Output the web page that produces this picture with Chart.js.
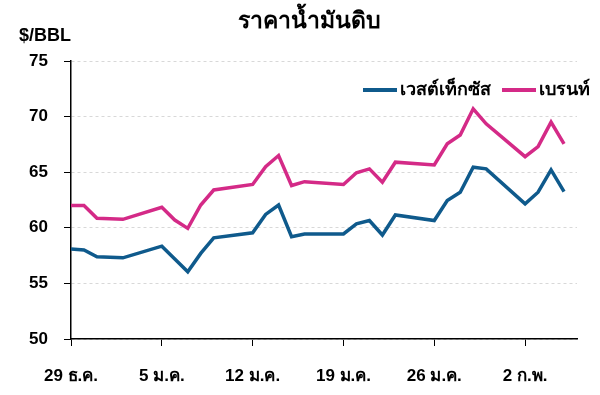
<!DOCTYPE html>
<html>
<head>
<meta charset="utf-8">
<script src="https://cdn.jsdelivr.net/npm/chart.js@4.4.1/dist/chart.umd.min.js"></script>
<style>
  html, body { margin: 0; padding: 0; background: #fff; }
  #wrap { position: relative; width: 600px; height: 395px; }
</style>
</head>
<body>
<div id="wrap"><canvas id="c" width="600" height="395"></canvas></div>
<script>
// days since 29 Dec (trading days only)
const days = [0, 1, 2, 4, 7, 8, 9, 10, 11, 14, 15, 16, 17, 18, 21, 22, 23, 24, 25, 28, 29, 30, 31, 32, 35, 36, 37, 38]
const wti = [58.1, 58.0, 57.4, 57.3, 58.35, 57.2, 56.05, 57.7, 59.1, 59.55, 61.2, 62.05, 59.2, 59.45,
  59.45, 60.35, 60.65, 59.35, 61.15, 60.65, 62.45, 63.2, 65.45, 65.3, 62.15, 63.2, 65.2, 63.25]
const brent = [62.0, 62.0, 60.85, 60.76, 61.84, 60.7, 59.95, 62.05, 63.4, 63.9, 65.5, 66.5, 63.8, 64.15,
  63.9, 64.95, 65.3, 64.1, 65.9, 65.65, 67.55, 68.35, 70.7, 69.35, 66.4, 67.3, 69.5, 67.55]
const tickDays = [0, 7, 14, 21, 28, 35]
const tickLabels = ['29 ธ.ค.', '5 ม.ค.', '12 ม.ค.', '19 ม.ค.', '26 ม.ค.', '2 ก.พ.']
const seriesNames = ['เวสต์เท็กซัส', 'เบรนท์']
const chartTitle = 'ราคาน้ำมันดิบ'
const unitLabel = '$/BBL'

const BLUE = '#0f5a8c'
const PINK = '#d42a87'
const FONT = '"Liberation Sans", Arial, "Noto Sans", sans-serif'

const extras = {
  id: 'extras',
  afterDraw(chart) {
    const ctx = chart.ctx
    ctx.save()
    ctx.fillStyle = '#000'
    ctx.textBaseline = 'middle'
    ctx.font = 'bold 23px ' + FONT
    ctx.textAlign = 'center'
    ctx.fillText(chartTitle, 309, 22)
    ctx.font = 'bold 18px ' + FONT
    ctx.textAlign = 'left'
    ctx.fillText(unitLabel, 19, 36)
    // legend
    const items = [
      { x: 363, color: BLUE, text: seriesNames[0] },
      { x: 502, color: PINK, text: seriesNames[1] },
    ]
    ctx.font = 'bold 18px ' + FONT
    items.forEach(it => {
      ctx.strokeStyle = it.color
      ctx.lineWidth = 4
      ctx.beginPath()
      ctx.moveTo(it.x, 90)
      ctx.lineTo(it.x + 34, 90)
      ctx.stroke()
      ctx.fillText(it.text, it.x + 37, 90)
    })
    ctx.restore()
  }
}

new Chart(document.getElementById('c'), {
  type: 'line',
  data: {
    datasets: [
      {
        label: seriesNames[0],
        data: days.map((d, i) => ({ x: d, y: wti[i] })),
        borderColor: BLUE,
        borderWidth: 3.5,
        pointRadius: 0,
        tension: 0,
      },
      {
        label: seriesNames[1],
        data: days.map((d, i) => ({ x: d, y: brent[i] })),
        borderColor: PINK,
        borderWidth: 3.5,
        pointRadius: 0,
        tension: 0,
      },
    ],
  },
  options: {
    responsive: false,
    animation: false,
    layout: { padding: { top: 61, right: 23, left: 0, bottom: 0 } },
    plugins: {
      legend: { display: false },
      tooltip: { enabled: false },
      title: { display: false },
    },
    scales: {
      x: {
        type: 'linear',
        min: 0,
        max: 39,
        afterBuildTicks: s => { s.ticks = tickDays.map(v => ({ value: v })) },
        afterFit: s => { s.height = 56 },
        ticks: {
          color: '#000',
          font: { family: FONT, size: 17, weight: 'bold' },
          padding: 20,
          maxRotation: 0,
          callback: (v) => tickLabels[tickDays.indexOf(v)],
        },
        grid: { drawOnChartArea: false, drawTicks: true, tickLength: 7, tickColor: '#000' },
        border: { color: '#000', width: 1.5 },
      },
      y: {
        min: 50,
        max: 75,
        afterFit: s => { s.width = 71 },
        ticks: {
          stepSize: 5,
          color: '#000',
          font: { family: FONT, size: 17, weight: 'bold' },
          padding: 16,
        },
        grid: { color: '#d8d8d8', tickLength: 7, tickColor: '#000', lineWidth: 1 },
        border: { color: '#000', width: 1.5, dash: [3, 3] },
      },
    },
  },
  plugins: [extras],
})
</script>
</body>
</html>
